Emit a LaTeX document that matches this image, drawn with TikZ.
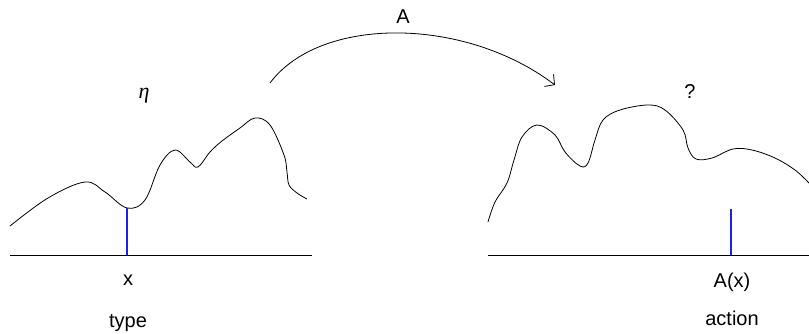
\documentclass[tikz,border=0pt]{standalone}
\usepackage{fontspec}
\setmainfont{Liberation Sans}
\newfontfamily\etafont{Liberation Serif}
\usetikzlibrary{arrows.meta}
\definecolor{mblue}{RGB}{30,30,240}
\begin{document}
\begin{tikzpicture}[x=1pt,y=-1pt,
  curve/.style={line width=0.8pt,black},
  axis/.style={line width=0.8pt,black},
  bluetick/.style={line width=1.1pt,draw=mblue},
  lbl/.style={font=\fontsize{20}{24}\selectfont,inner sep=0pt,anchor=base}]
\useasboundingbox (0,0) rectangle (809,333);
% left landscape
\draw[curve] plot[smooth,tension=0.6] coordinates {(10,226) (48,198) (85,182) (105,192) (127,208) (145,200) (160,165) (175,150) (190,162) (198,167) (210,152) (222,141) (240,128) (255,118) (270,125) (284,155) (287,172) (289,185) (297,193) (307,199)};
\draw[axis] (10,255) -- (312,255);
\coordinate (xb) at (127,255);
\coordinate (xt) at (127,208);
\draw[bluetick] (xb) -- (xt);
% right landscape
\draw[curve] plot[smooth,tension=0.6] coordinates {(488,222) (495,202) (507,183) (514,160) (522,137) (537,125) (555,135) (565,152) (580,166) (588,163) (595,140) (603,120) (620,110) (648,105) (665,110) (683,130) (688,148) (696,159) (712,158) (733,149) (752,150) (775,158) (795,170) (809,183)};
\draw[axis] (488,255) -- (809,255);
\coordinate (ab) at (731,255);
\coordinate (at) at (731,209);
\draw[bluetick] (ab) -- (at);
% arrow
\coordinate (s) at (270,83);
\coordinate (e) at (555,85);
\draw[curve,-{Straight Barb[length=7pt,width=15pt]}] (s) .. controls (320,16) and (464,16) .. (e);
% labels
\node[lbl,font=\fontsize{22}{26}\selectfont] (eta) at (144,98) {\etafont\itshape η};
\node[lbl] (q) at (690,98) {?};
\node[lbl] (A) at (403,23) {A};
\node[lbl] (x) at (128,285) {x};
\node[lbl] (Ax) at (732,287) {A(x)};
\node[lbl] (type) at (128,327) {type};
\node[lbl] (action) at (732,325) {action};
\end{tikzpicture}
\end{document}
